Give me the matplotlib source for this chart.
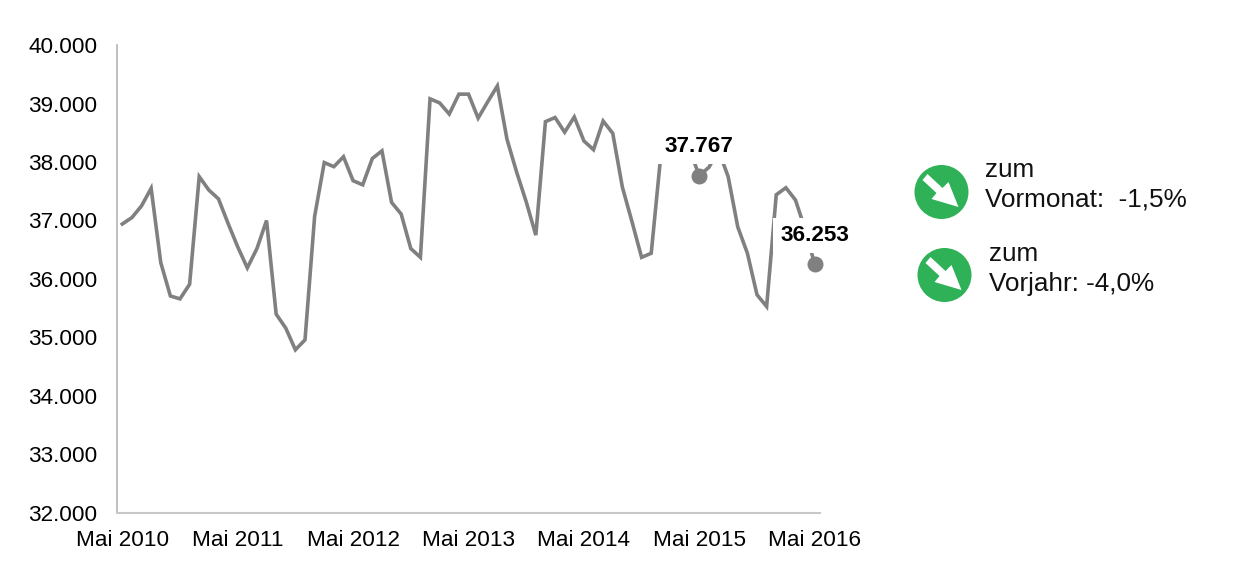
import matplotlib
matplotlib.use('Agg')
import matplotlib.pyplot as plt
from matplotlib.patches import Circle, Polygon

plt.rcParams['font.family'] = ['Liberation Sans', 'DejaVu Sans']

W, H = 1258, 582
GREY = '#808080'

# monthly values, May 2010 - May 2016
values = [36940, 37050, 37250, 37550, 36280, 35710, 35660, 35910, 37750, 37520, 37370, 36950,
          36550, 36190, 36520, 37000, 35400, 35160, 34790, 34960, 37070, 37990, 37920, 38090,
          37680, 37610, 38060, 38190, 37310, 37110, 36520, 36370, 39080, 39010, 38820, 39160,
          39160, 38750, 39030, 39300, 38390, 37830, 37320, 36750, 38690, 38760, 38510, 38770,
          38360, 38210, 38700, 38490, 37570, 36980, 36370, 36440, 38120, 38200, 38300, 38200,
          37767, 37910, 38200, 37750, 36890, 36440, 35730, 35530, 37440, 37560, 37350, 36850,
          36253]
x_labels = ['Mai 2010', 'Mai 2011', 'Mai 2012', 'Mai 2013', 'Mai 2014', 'Mai 2015', 'Mai 2016']
y_ticks = [32000, 33000, 34000, 35000, 36000, 37000, 38000, 39000, 40000]
y_labels = ['32.000', '33.000', '34.000', '35.000', '36.000', '37.000', '38.000', '39.000', '40.000']
marked = [60, 72]
marked_labels = ['37.767', '36.253']

fig = plt.figure(figsize=(W / 100, H / 100), dpi=100)
ax = fig.add_axes([117 / W, 1 - 513 / H, (820 - 117) / W, (513 - 45) / H])

xs = list(range(len(values)))
ax.plot(xs, values, color=GREY, lw=2.6, solid_joinstyle='miter', zorder=2)
ax.plot(marked, [values[i] for i in marked], 'o', color=GREY, ms=11.5, mew=0, zorder=2, clip_on=False)

ax.set_xlim(-0.55, 72.55)
ax.set_ylim(32000, 40000)
ax.set_xticks(xs[::12])
ax.set_xticklabels(x_labels)
ax.set_yticks(y_ticks)
ax.set_yticklabels(y_labels)
ax.tick_params(axis='both', length=0, labelsize=16.2, colors='black')
ax.tick_params(axis='x', pad=12)
ax.tick_params(axis='y', pad=14)
for s in ['top', 'right']:
    ax.spines[s].set_visible(False)
ax.spines['left'].set_color('#b4b4b4')
ax.spines['left'].set_linewidth(1.2)
ax.spines['bottom'].set_color('#c8c8c8')
ax.spines['bottom'].set_linewidth(1.5)

# value labels sit on white boxes that cover the line
for i, lab in zip(marked, marked_labels):
    ax.annotate(lab, (i, values[i]), xytext=(0, 21), textcoords='offset points',
                ha='center', va='center', fontsize=16.2, fontweight='bold', color='black',
                bbox=dict(fc='white', ec='none', pad=5), zorder=3, annotation_clip=False)

# overlay in pixel coordinates for the two change badges
ov = fig.add_axes([0, 0, 1, 1])
ov.set_xlim(0, W)
ov.set_ylim(H, 0)
ov.axis('off')
ov.patch.set_alpha(0)

arrow = [(-19, -12), (-14, -18), (1, -4), (7, -10), (17, 15), (-10, 7), (-5, 1)]
for cx, cy in [(941.5, 192), (944.5, 275)]:
    ov.add_patch(Circle((cx, cy), 27, fc='#2eb157', ec='none'))
    ov.add_patch(Polygon([(cx + a, cy + b) for a, b in arrow], fc='white', ec='none'))

ov.text(985, 170, 'zum', fontsize=18.8, va='center', ha='left', color='#111111')
ov.text(985, 199, 'Vormonat:  -1,5%', fontsize=18.8, va='center', ha='left', color='#111111')
ov.text(989, 254, 'zum', fontsize=18.8, va='center', ha='left', color='#111111')
ov.text(989, 284, 'Vorjahr: -4,0%', fontsize=18.8, va='center', ha='left', color='#111111')

fig.savefig('out.png', dpi=100)
